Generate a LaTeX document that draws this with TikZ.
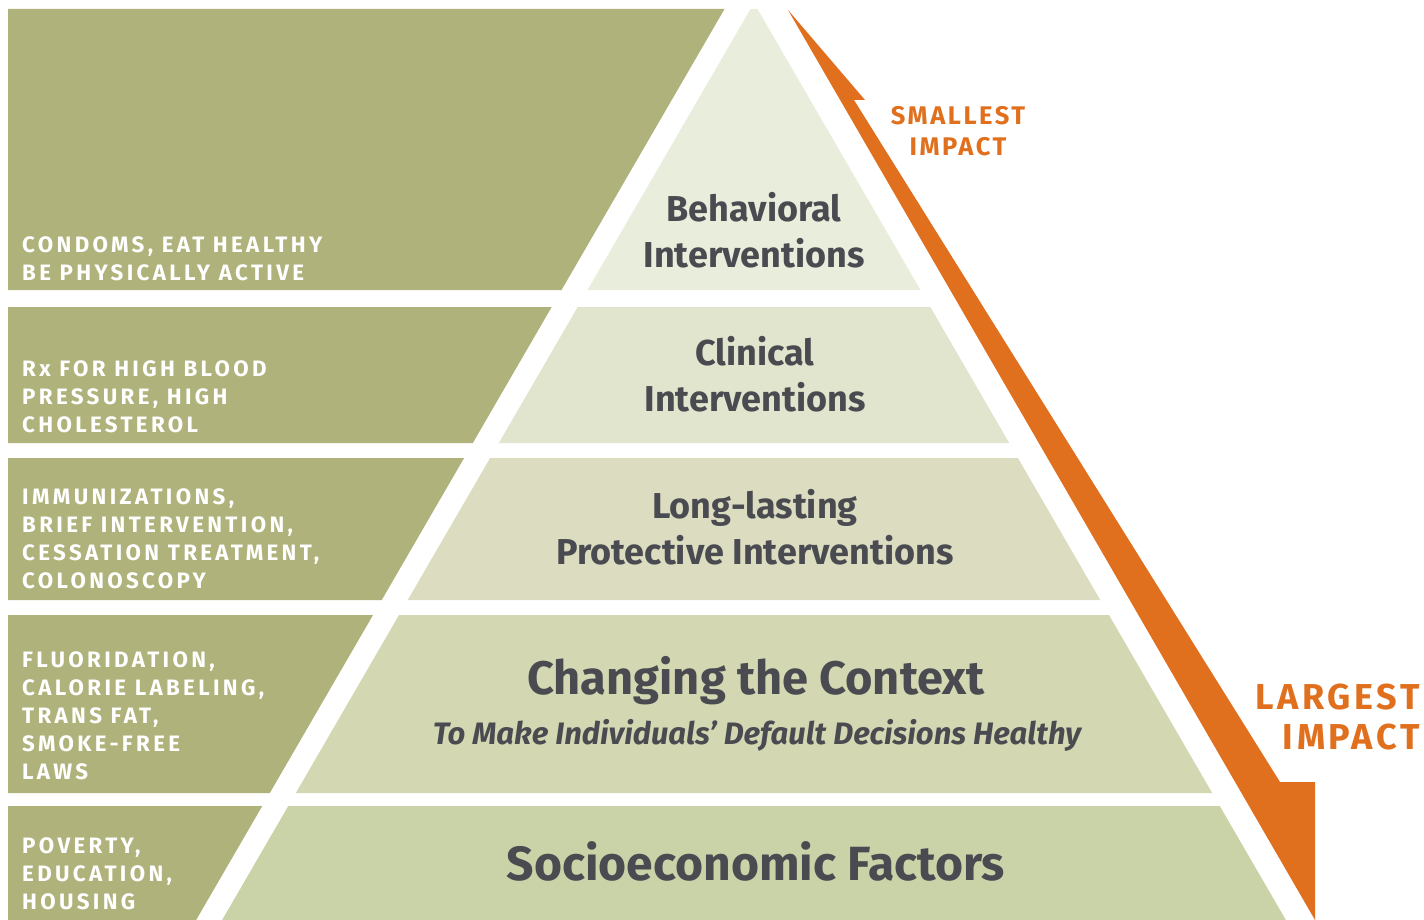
\documentclass[tikz,border=0pt]{standalone}
\usepackage{fontspec}
\setmainfont{Fira Sans}
\newfontfamily\capsfont[LetterSpace=15]{Fira Sans}
\newfontfamily\impactfont[LetterSpace=10]{Fira Sans}

\definecolor{bandolive}{HTML}{AFB27A}
\definecolor{lay1}{HTML}{E9EDDC}
\definecolor{lay2}{HTML}{E1E5CD}
\definecolor{lay3}{HTML}{DCDCC0}
\definecolor{lay4}{HTML}{D3D8B3}
\definecolor{lay5}{HTML}{CAD3A8}
\definecolor{textgrey}{HTML}{4A4B51}
\definecolor{impactorange}{HTML}{E1701E}

\begin{document}
\begin{tikzpicture}[x=1pt, y=-1pt,
    layer/.style={font=\bfseries\fontsize{36}{46}\selectfont, text=textgrey, align=center, inner sep=0pt},
    example/.style={font=\capsfont\bfseries\fontsize{22.3}{28}\selectfont, text=white, align=left, anchor=west, inner sep=0pt},
    impact/.style={font=\impactfont\bfseries, text=impactorange, inner sep=0pt}]
    \useasboundingbox (0,0) rectangle (1424,920);

    % Bands and pyramid layers
    \foreach \t/\b/\c in {9/290/lay1, 307/443/lay2, 458/600/lay3, 615/793/lay4, 806/920/lay5} {
        \pgfmathsetmacro{\lt}{754-0.58*(\t-3)}
        \pgfmathsetmacro{\lb}{754-0.58*(\b-3)}
        \pgfmathsetmacro{\rt}{754+0.58*(\t-3)}
        \pgfmathsetmacro{\rb}{754+0.58*(\b-3)}
        \fill[bandolive] (8,\t) -- (\lt-26,\t) -- (\lb-26,\b) -- (8,\b) -- cycle;
        \fill[\c] (\lt,\t) -- (\rt,\t) -- (\rb,\b) -- (\lb,\b) -- cycle;
    }

    % Impact arrow
    \fill[impactorange] (788,10) -- (865,100) -- (854,100) -- (1280,782)
        -- (1315,782) -- (1315,920) -- cycle;
    \node[impact, font=\impactfont\bfseries\fontsize{25.5}{31}\selectfont, align=center] (smallest) at (958,131) {SMALLEST\\IMPACT};
    \node[impact, font=\impactfont\bfseries\fontsize{36}{40}\selectfont, align=right, anchor=east] (largest) at (1420,717) {LARGEST\\IMPACT};

    % Pyramid labels
    \node[layer] (behav) at (754,230) {Behavioral\\Interventions};
    \node[layer] (clin) at (755,374) {Clinical\\Interventions};
    \node[layer] (long) at (755,527) {Long-lasting\\Protective Interventions};
    \node[layer, font=\bfseries\fontsize{47}{52}\selectfont] (context) at (756,681) {Changing the Context};
    \node[layer, font=\bfseries\itshape\fontsize{31}{36}\selectfont] (default) at (757,735) {To Make Individuals’ Default Decisions Healthy};
    \node[layer, font=\bfseries\fontsize{48}{54}\selectfont] (socio) at (756,861) {Socioeconomic Factors};

    % Examples
    \node[example] (ex1) at (22,259) {CONDOMS, EAT HEALTHY\\BE PHYSICALLY ACTIVE};
    \node[example] (ex2) at (22,397) {Rx FOR HIGH BLOOD\\PRESSURE, HIGH\\CHOLESTEROL};
    \node[example] (ex3) at (22,539) {IMMUNIZATIONS,\\BRIEF INTERVENTION,\\CESSATION TREATMENT,\\COLONOSCOPY};
    \node[example] (ex4) at (22,716) {FLUORIDATION,\\CALORIE LABELING,\\TRANS FAT,\\SMOKE-FREE\\LAWS};
    \node[example] (ex5) at (22,874) {POVERTY,\\EDUCATION,\\HOUSING};
\end{tikzpicture}
\end{document}
